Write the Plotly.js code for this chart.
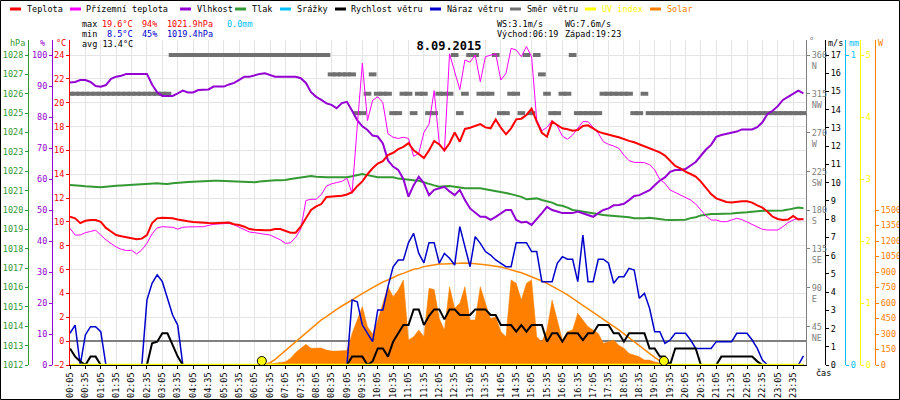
<!DOCTYPE html>
<html><head><meta charset="utf-8">
<script src="https://cdn.plot.ly/plotly-3.0.1.min.js"></script>
<style>html,body{margin:0;padding:0;background:#fff}#chart{width:900px;height:400px}</style>
</head><body><div id="chart"></div>
<script>
// ---------- DATA (10-minute samples from 00:05) ----------
const timeLabels = ["00:05","00:35","01:05","01:35","02:05","02:35","03:05","03:35","04:05","04:35",
 "05:05","05:35","06:05","06:35","07:05","07:35","08:05","08:35","09:05","09:35","10:05","10:35",
 "11:05","11:35","12:05","12:35","13:05","13:35","14:05","14:35","15:05","15:35","16:05","16:35",
 "17:05","17:35","18:05","18:35","19:05","19:35","20:05","20:35","21:05","21:35","22:05","22:35",
 "23:05","23:35"];

const temperature = [10.44,10.3,9.9,10.1,10.16,10.16,10.0,9.5,9.2,8.9,
 8.8,8.7,8.6,8.55,8.6,8.9,9.9,10.3,10.35,10.35,
 10.3,10.2,10.1,10.05,10.0,9.95,9.9,9.9,9.88,9.9,
 9.95,9.95,9.8,9.74,9.6,9.4,9.35,9.3,9.3,9.3,
 9.4,9.4,9.25,9.1,9.1,9.6,10.3,11.0,11.3,11.5,
 12.1,12.12,12.15,12.2,12.3,12.5,13.0,13.4,14.0,14.5,
 14.9,15.1,15.6,15.8,16.1,16.3,16.6,16.0,15.7,15.35,
 16.0,16.8,16.5,16.0,16.6,17.5,16.73,17.8,17.9,18.05,
 18.2,17.93,17.85,18.6,17.9,17.35,17.85,18.6,18.66,18.97,
 19.5,18.41,17.48,17.15,18.41,18.13,17.85,17.77,17.65,17.71,
 18.05,18.1,17.85,17.57,17.43,17.29,17.21,17.1,16.93,16.8,
 16.68,16.51,16.37,16.17,16.03,15.84,15.56,15.14,14.69,14.5,
 14.22,14.02,13.8,13.38,12.9,12.34,11.98,11.84,11.67,11.62,
 11.7,11.73,11.73,11.62,11.39,11.2,10.86,10.44,10.25,10.16,
 10.2,10.5,10.2,10.25];

const groundTemp = [9.46,8.9,8.9,9.1,9.2,9.3,8.9,8.5,8.2,7.9,
 7.7,7.6,7.62,7.31,7.65,8.2,9.0,9.5,9.6,9.6,
 9.55,9.4,9.55,9.58,9.6,9.6,9.6,9.7,9.8,9.83,
 9.88,9.88,9.75,9.55,9.3,9.15,9.1,9.05,9.0,8.9,
 8.7,8.5,8.2,8.25,8.7,9.4,11.8,11.9,11.9,12.3,
 13.0,13.2,13.3,13.4,13.66,12.4,18.0,23.3,18.5,20.2,
 20.5,20.0,17.4,17.1,17.0,17.1,17.0,15.5,15.75,17.5,
 18.2,21.0,16.6,15.9,24.1,22.7,21.1,23.58,23.4,24.0,
 21.76,23.86,24.0,24.1,21.9,22.46,24.56,24.42,23.86,24.7,
 23.86,18.55,17.65,17.93,18.5,18.05,17.2,16.93,17.29,17.85,
 18.41,18.41,17.93,17.43,16.73,16.5,16.37,16.17,15.6,15.14,
 15.0,14.97,14.97,14.8,14.36,13.57,13.24,12.68,12.46,12.26,
 12.06,11.84,11.5,11.0,10.5,10.16,10.16,10.02,10.02,10.16,
 10.3,10.2,10.0,9.74,9.55,9.38,9.32,9.3,9.32,9.6,
 9.94,10.16,10.3,10.16];

const humidity = [91.1,91.3,91.9,91.9,91.3,90.0,89.8,90.3,92.3,93.0,
 93.3,93.9,93.9,93.9,93.9,93.9,90.5,88.0,86.8,86.8,
 86.8,87.6,88.5,87.9,87.9,88.7,88.8,88.9,89.8,89.8,
 89.8,90.5,91.0,92.0,93.0,93.0,93.5,93.9,94.1,93.5,
 93.0,93.0,93.0,93.0,93.0,92.5,91.0,88.0,86.5,85.5,
 84.4,83.9,82.8,84.5,84.9,82.0,79.0,77.0,75.8,74.0,
 73.7,71.5,66.0,64.0,62.9,60.0,54.3,58.0,60.7,58.6,
 54.8,56.5,57.0,57.5,56.0,54.8,56.5,53.2,50.5,49.0,
 47.8,47.8,46.8,47.8,48.9,50.0,50.0,46.8,46.0,46.2,
 45.2,47.0,49.0,51.0,50.0,49.5,49.0,49.0,49.0,49.5,
 49.0,48.5,47.8,49.0,50.0,50.5,51.5,51.6,52.0,53.2,
 54.5,54.8,55.5,56.4,58.0,59.5,60.5,62.3,62.9,62.9,
 63.2,64.5,65.5,67.5,69.5,71.0,73.6,74.2,74.6,74.8,
 75.3,76.0,76.0,76.0,76.7,78.3,81.0,82.0,83.5,85.5,
 86.5,87.6,88.5,87.6];

const pressure = [1021.29,1021.28,1021.25,1021.22,1021.2,1021.2,1021.17,1021.2,1021.24,1021.25,
 1021.27,1021.29,1021.31,1021.33,1021.34,1021.35,1021.37,1021.38,1021.36,1021.34,
 1021.38,1021.41,1021.42,1021.44,1021.46,1021.48,1021.5,1021.51,1021.51,1021.51,
 1021.5,1021.48,1021.46,1021.45,1021.44,1021.43,1021.43,1021.47,1021.5,1021.52,
 1021.53,1021.54,1021.55,1021.6,1021.63,1021.68,1021.72,1021.75,1021.72,1021.69,
 1021.69,1021.69,1021.69,1021.69,1021.69,1021.74,1021.8,1021.86,1021.8,1021.74,
 1021.69,1021.69,1021.69,1021.69,1021.62,1021.58,1021.55,1021.53,1021.51,1021.45,
 1021.35,1021.27,1021.2,1021.22,1021.24,1021.2,1021.15,1021.12,1021.12,1021.12,
 1021.12,1021.07,1021.03,1020.99,1020.95,1020.88,1020.82,1020.76,1020.68,1020.55,
 1020.58,1020.6,1020.52,1020.45,1020.38,1020.26,1020.22,1020.12,1020.0,1019.96,
 1019.91,1019.88,1019.83,1019.79,1019.74,1019.72,1019.7,1019.68,1019.64,1019.62,
 1019.58,1019.57,1019.58,1019.6,1019.56,1019.52,1019.5,1019.48,1019.48,1019.48,
 1019.5,1019.58,1019.63,1019.72,1019.77,1019.79,1019.8,1019.8,1019.8,1019.82,
 1019.84,1019.85,1019.88,1019.91,1019.95,1019.96,1019.96,1019.96,1019.97,1019.98,
 1020.02,1020.08,1020.13,1020.09];

const windGust = [1.74,2.19,0,1.65,2.1,2.1,1.83,0,0,0,
 0,0,0,0,0,3.56,4.48,4.94,4.57,3.66,
 2.74,2.19,0,0,0,0,0,0,0,0,
 0,0,0,0,0,0,0,0,0,0,
 0,0,0,0,0,0,0,0,0,0,
 0,0,0,0,0,3.56,3.47,2.19,1.74,1.28,
 3.02,3.02,4.3,5.39,5.76,5.76,6.71,7.22,6.12,5.6,
 6.71,6.71,5.58,6.12,5.85,5.48,7.59,6.49,5.39,7.04,
 6.67,6.22,6.03,5.76,5.58,5.39,5.39,6.71,6.71,6.71,
 6.22,6.22,4.57,4.57,4.57,5.58,5.94,5.8,5.8,4.57,
 7.13,4.57,4.57,5.8,5.8,5.58,4.48,4.84,4.84,5.3,
 5.21,3.66,3.93,3.11,1.83,1.83,1.19,1.37,1.74,1.74,
 1.74,1.37,0.91,0.91,0.91,0.91,1.28,1.28,1.28,1.28,
 1.74,1.74,1.74,1.37,0.91,0.27,0,0,0,0,
 0,0,0,0.5];

const windSpeed = [0.91,0.46,0.2,0,0.46,0.46,0,0,0,0,
 0,0,0,0,0,0,1.19,1.28,1.74,1.74,
 1.1,0.46,0,0,0,0,0,0,0,0,
 0,0,0,0,0,0,0,0,0,0,
 0,0,0,0,0,0,0,0,0,0,
 0,0,0,0,0,0.46,0.46,0.46,0,0.2,
 0.91,0.91,0.46,1.28,1.74,2.19,2.19,3.05,3.05,2.19,
 2.7,3.05,3.05,2.5,3.05,3.05,2.74,2.74,2.74,3.05,
 3.05,3.05,2.74,2.74,2.19,2.19,2.19,1.83,2.19,1.83,
 2.19,2.19,2.19,1.28,1.74,1.74,1.28,1.74,1.74,1.74,
 1.37,1.74,1.74,2.19,2.19,2.19,1.74,1.74,1.28,1.74,
 1.74,1.74,1.74,0.91,0.91,0.46,0.46,0,0.91,0.91,
 0.91,0.91,0.91,0,0,0,0,0.46,0.46,0.46,
 0.46,0.46,0.46,0.46,0.2,0,0,0,0,0,
 0,0,0,0];

const windDir = [315,315,315,315,315,315,315,315,315,315,
 315,315,315,315,315,315,315,315,315,315,
 360,360,360,360,360,360,360,360,360,360,
 360,360,360,360,360,360,360,360,360,360,
 360,360,360,360,360,360,360,360,360,360,
 360,337.5,337.5,337.5,337.5,337.5,292.5,292.5,315,337.5,
 315,315,315,292.5,292.5,315,315,292.5,315,315,
 292.5,292.5,315,315,315,360,292.5,315,360,360,
 315,315,315,360,292.5,292.5,315,315,292.5,360,
 292.5,360,337.5,315,292.5,292.5,315,315,360,292.5,
 292.5,292.5,292.5,292.5,315,315,315,315,315,315,
 292.5,292.5,315,292.5,292.5,292.5,292.5,292.5,292.5,292.5,
 292.5,292.5,292.5,292.5,292.5,292.5,292.5,292.5,292.5,292.5,
 292.5,292.5,292.5,292.5,292.5,292.5,292.5,292.5,292.5,292.5,
 292.5,292.5,292.5,292.5];

const solar = [0,0,0,0,0,0,0,0,0,0,
 0,0,0,0,0,0,0,0,0,0,
 0,0,0,0,0,0,0,0,0,0,
 0,0,0,0,0,0,0,0,5,10,
 16,25,32,65,120,161,200,161,161,165,
 145,135,135,135,140,306,436,565,371,300,
 436,603,758,661,726,823,242,274,339,274,
 742,730,450,339,758,548,597,758,436,436,
 758,597,450,468,323,274,823,790,629,790,
 823,274,226,339,629,436,242,323,339,500,
 436,371,339,306,210,226,242,190,161,112,
 97,80,48,48,30,20,10,0,0,0,
 0,0,0,0,0,0,0,0,0,0,
 0,0,0,0,0,0,0,0,0,0,
 0,0,0,0];

const solarMax = [null,null,null,null,null,null,null,null,null,null,
 null,null,null,null,null,null,null,null,null,null,
 null,null,null,null,null,null,null,null,null,null,
 null,null,null,null,null,null,null,null,6,22,
 55,97,139,184,226,274,316,355,397,436,
 468,506,539,571,597,629,661,687,720,749,
 778,803,823,848,871,887,910,926,935,952,
 961,971,977,977,981,984,987,987,984,981,
 977,971,964,958,948,935,922,910,893,874,
 855,836,813,790,764,736,707,678,645,613,
 581,548,513,477,442,410,374,339,300,265,
 226,187,148,110,74,39,10,null,null,null,
 null,null,null,null,null,null,null,null,null,null,
 null,null,null,null,null,null,null,null,null,null,
 null,null,null,null];

const uvIndex = [0,0,0,0,0,0,0,0,0,0,0,0,0,0,0,0,0,0,0,0,0,0,0,0,
 0,0,0,0,0,0,0,0,0,0,0,0,0,0,0,0,0,0,0,0,0,0,0,0,
 0,0,0,0,0,0,0,0,0,0,0,0,0,0,0,0,0,0,0,0,0,0,0,0,
 0,0,0,0,0,0,0,0,0,0,0,0,0,0,0,0,0,0,0,0,0,0,0,0,
 0,0,0,0,0,0,0,0,0,0,0,0,0,0,0,0,0,0,0,0,0,0,0,0,
 0,0,0,0,0,0,0,0,0,0,0,0,0,0,0,0,0,0,0,0,0,0,0,0];

const precip = [0,0,0,0,0,0,0,0,0,0,0,0,0,0,0,0,0,0,0,0,0,0,0,0,
 0,0,0,0,0,0,0,0,0,0,0,0,0,0,0,0,0,0,0,0,0,0,0,0,
 0,0,0,0,0,0,0,0,0,0,0,0,0,0,0,0,0,0,0,0,0,0,0,0,
 0,0,0,0,0,0,0,0,0,0,0,0,0,0,0,0,0,0,0,0,0,0,0,0,
 0,0,0,0,0,0,0,0,0,0,0,0,0,0,0,0,0,0,0,0,0,0,0,0,
 0,0,0,0,0,0,0,0,0,0,0,0,0,0,0,0,0,0,0,0,0,0,0,0];

const sunEvents = ["06:19", "19:23"];
const dirTickVals = [45, 90, 135, 180, 225, 270, 315, 360];
const dirTickText = ["45<br>NE","90<br>E","135<br>SE","180<br>S","225<br>SW","270<br>W","315<br>NW","360<br>N"];

const legendNames = ["Teplota","Přízemní teplota","Vlhkost","Tlak","Srážky","Rychlost větru","Náraz větru","Směr větru","UV index","Solar"];
const legendColors = ["#ff0000","#ff00ff","#9400d3","#339933","#00bfff","#000000","#0000cc","#707070","#ffff00","#ff8000"];
const legendTextColors = ["#000","#000","#000","#000","#000","#000","#000","#000","#ffff00","#ff8000"];

const statMax = ["19.6°C","94%","1021.9hPa","0.0mm"];
const statMin = ["8.5°C","45%","1019.4hPa"];
const statAvg = "avg 13.4°C";
const windInfo = ["WS:3.1m/s","WG:7.6m/s"];
const sunInfo = ["Východ:06:19","Západ:19:23"];
const dateTitle = "8.09.2015";

// ---------- BUILD ----------
const FONT = "DejaVu Sans Mono";
const toMin = s => { const p = s.split(":").map(Number); return p[0]*60 + p[1]; };
const times = temperature.map((_, i) => 5 + 10 * i);
const tickVals = timeLabels.map(toMin);
const sunX = sunEvents.map(toMin);

// page-pixel helpers for layout placement
const ML = 10, MR = 10, MT = 40, MB = 35, W = 900, H = 400;
const PW = W - ML - MR, PH = H - MT - MB;
const px = X => (X - ML) / PW;
const py = Y => (H - MB - Y) / PH;
const ext = (lo, hi) => [lo, hi + (hi - lo) * 15 / 310];

const baseAx = (o) => Object.assign({
  showgrid: false, zeroline: false, showline: true, linewidth: 1,
  ticks: "outside", ticklen: 3, tickwidth: 1,
  tickfont: {family: FONT, size: 8.5}, fixedrange: true
}, o);
const colAx = (c, o) => baseAx(Object.assign({linecolor: c, tickcolor: c, tickfont: {family: FONT, size: 8.5, color: c}}, o));

const traces = [
  {x: times, y: solar, yaxis: "y", type: "scatter", mode: "lines", fill: "tozeroy",
   fillcolor: "#ff8000", line: {color: "#ff8000", width: 0.5}},
  {x: times, y: solarMax, yaxis: "y", type: "scatter", mode: "lines",
   line: {color: "#ff8800", width: 1.5}},
  {x: times, y: windDir, yaxis: "y2", type: "scatter", mode: "markers",
   marker: {symbol: "line-ew", size: 5.5, line: {color: "#707070", width: 4}}},
  {x: times, y: pressure, yaxis: "y3", type: "scatter", mode: "lines",
   line: {color: "#339933", width: 2}},
  {x: times, y: humidity, yaxis: "y4", type: "scatter", mode: "lines",
   line: {color: "#9400d3", width: 2}},
  {x: times, y: groundTemp, yaxis: "y5", type: "scatter", mode: "lines",
   line: {color: "#ff00ff", width: 1}},
  {x: times, y: temperature, yaxis: "y5", type: "scatter", mode: "lines",
   line: {color: "#ff0000", width: 2}},
  {x: times, y: windGust, yaxis: "y6", type: "scatter", mode: "lines",
   line: {color: "#0000cc", width: 1.5}},
  {x: times, y: windSpeed, yaxis: "y6", type: "scatter", mode: "lines",
   line: {color: "#000000", width: 2}},
  {x: times, y: precip, yaxis: "y7", type: "scatter", mode: "lines",
   line: {color: "#00bfff", width: 1}, cliponaxis: false},
  {x: times, y: uvIndex, yaxis: "y8", type: "scatter", mode: "lines",
   line: {color: "#ffff00", width: 2.5}, cliponaxis: false},
  {x: sunX, y: [0, 0], yaxis: "y8", type: "scatter", mode: "markers", cliponaxis: false,
   marker: {size: 9, color: "#ffff00", angle: 180, standoff: 4, line: {color: "#000", width: 1}}}
].map(t => Object.assign({showlegend: false, hoverinfo: "skip"}, t));

const annotations = [];
const ann = (text, X, Y, color, xanchor, size) => annotations.push({
  text, x: px(X), y: py(Y), xref: "paper", yref: "paper", xanchor: xanchor || "left",
  yanchor: "middle", showarrow: false, font: {family: FONT, size: size || 8.5, color: color || "#000"}
});

// legend
const legLineX = [10, 70, 180, 235, 280, 335, 430, 510, 585, 650];
const legTextX = [25, 84, 195, 250, 295, 349, 445, 525, 600, 665];
const shapes = [];
legendNames.forEach((n, i) => {
  ann(n, legTextX[i], 9, legendTextColors[i]);
  shapes.push({type: "line", xref: "paper", yref: "paper", x0: px(legLineX[i]), x1: px(legLineX[i] + 11),
    y0: py(9), y1: py(9), line: {color: legendColors[i], width: 3}});
});
// stats
ann("max", 80, 24); ann(statMax[0], 100, 24, "#ff0000"); ann(statMax[1], 140, 24, "#ff0000");
ann(statMax[2], 165, 24, "#ff0000"); ann(statMax[3], 225, 24, "#00bfff");
ann("min", 80, 34); ann(statMin[0], 105, 34, "#0000cc"); ann(statMin[1], 140, 34, "#0000cc");
ann(statMin[2], 165, 34, "#0000cc");
ann(statAvg, 80, 44);
ann(windInfo[0], 495, 24); ann(windInfo[1], 563, 24);
ann(sunInfo[0], 495, 34); ann(sunInfo[1], 563, 34);
// axis units
ann("hPa", 27, 43, "#339933", "right"); ann("%", 47, 43, "#9400d3", "right"); ann("°C", 68, 43, "#ff0000", "right");
ann("°", 807, 41, "#808080"); ann("m/s", 826, 43, "#000"); ann("mm", 847, 43, "#00bfff"); ann("W", 876, 43, "#ff8000");
ann("čas", 814, 373, "#000");

// frame
shapes.push({type: "rect", xref: "paper", yref: "paper", x0: px(0.5), x1: px(899.5), y0: py(399.5), y1: py(0.5),
  line: {color: "#000", width: 1}, fillcolor: "rgba(0,0,0,0)"});

const layout = {
  width: W, height: H, margin: {l: ML, r: MR, t: MT, b: MB, pad: 0},
  paper_bgcolor: "#fff", plot_bgcolor: "#fff", showlegend: false,
  title: {text: dateTitle, font: {family: FONT, size: 12, weight: "bold", color: "#000"},
    x: 449 / W, xref: "container", xanchor: "center", y: 1 - 46 / H, yref: "container", yanchor: "middle"},
  xaxis: {domain: [px(70), px(806)], range: [5, 1440], tickvals: tickVals, ticktext: timeLabels,
    tickangle: -90, ticks: "outside", ticklen: 3, tickcolor: "#000", showline: true, linecolor: "#000",
    showgrid: true, gridcolor: "#e4e4e4", gridwidth: 1, zeroline: false, fixedrange: true,
    tickfont: {family: FONT, size: 8.5, color: "#000"}},
  yaxis: colAx("#ff8000", {range: ext(0, 3000), tickvals: [0,150,300,450,600,750,900,1050,1200,1350,1500],
    side: "right", anchor: "free", position: px(875)}),
  yaxis2: colAx("#808080", {range: ext(0, 360), tickvals: dirTickVals, ticktext: dirTickText,
    overlaying: "y", side: "right", anchor: "x", ticklabelshift: 6}),
  yaxis3: colAx("#339933", {range: ext(1012, 1028), dtick: 1, tick0: 1012, overlaying: "y", side: "left",
    anchor: "free", position: px(28)}),
  yaxis4: colAx("#9400d3", {range: ext(0, 100), dtick: 10, tick0: 0, overlaying: "y", side: "left",
    anchor: "free", position: px(52)}),
  yaxis5: colAx("#ff0000", {range: ext(-2, 24), dtick: 2, tick0: 0, overlaying: "y", side: "left", anchor: "x",
    showgrid: true, gridcolor: "#e4e4e4", gridwidth: 1, zeroline: true, zerolinecolor: "#808080", zerolinewidth: 1.5}),
  yaxis6: colAx("#000000", {range: ext(0, 17), dtick: 1, tick0: 0, overlaying: "y", side: "right",
    anchor: "free", position: px(825)}),
  yaxis7: colAx("#00bfff", {range: ext(0, 1), tickvals: [0, 1], overlaying: "y", side: "right",
    anchor: "free", position: px(845)}),
  yaxis8: colAx("#ffff00", {range: ext(0, 5), dtick: 1, tick0: 0, overlaying: "y", side: "right",
    anchor: "free", position: px(860)}),
  annotations, shapes
};

Plotly.newPlot("chart", traces, layout, {displayModeBar: false, staticPlot: true});
</script>
</body></html>
